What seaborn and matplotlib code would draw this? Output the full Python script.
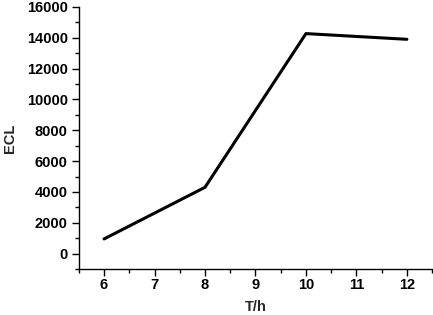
import matplotlib
matplotlib.use("Agg")
import matplotlib.pyplot as plt
from matplotlib.ticker import MultipleLocator
import seaborn as sns
import pandas as pd

# data
hours = [6, 8, 10, 12]
ecl = [950, 4300, 14270, 13900]

sns.set_style("ticks")
plt.rcParams['font.family'] = ['Liberation Sans', 'DejaVu Sans']
plt.rcParams['font.weight'] = 'bold'

df = pd.DataFrame({'T/h': hours, 'ECL': ecl})

fig = plt.figure(figsize=(4.33, 3.15), dpi=100)
ax = fig.add_axes([0.182, 0.146, 0.816, 0.832])
sns.lineplot(data=df, x='T/h', y='ECL', color='black', linewidth=2.2, ax=ax)

ax.set_xlim(5.5, 12.5)
ax.set_ylim(-1000, 16000)
ax.xaxis.set_major_locator(MultipleLocator(1))
ax.xaxis.set_minor_locator(MultipleLocator(0.5))
ax.yaxis.set_major_locator(MultipleLocator(2000))
ax.yaxis.set_minor_locator(MultipleLocator(1000))
ax.tick_params(which='major', direction='out', length=5, width=1, labelsize=10.5, colors='black', pad=3)
ax.tick_params(axis='x', which='major', pad=1.5)
ax.tick_params(which='minor', direction='out', length=3, width=1, colors='black')
for s in ['top', 'right']:
    ax.spines[s].set_visible(False)
for s in ['left', 'bottom']:
    ax.spines[s].set_color('black')
    ax.spines[s].set_linewidth(1)

ax.set_xlabel('T/h', fontsize=10.5, fontweight='bold', labelpad=6)
ax.set_ylabel('ECL', fontsize=10.5, fontweight='bold', labelpad=7)
for lbl in ax.get_xticklabels() + ax.get_yticklabels():
    lbl.set_fontweight('bold')

fig.savefig('out.png', dpi=100)
plt.close(fig)
